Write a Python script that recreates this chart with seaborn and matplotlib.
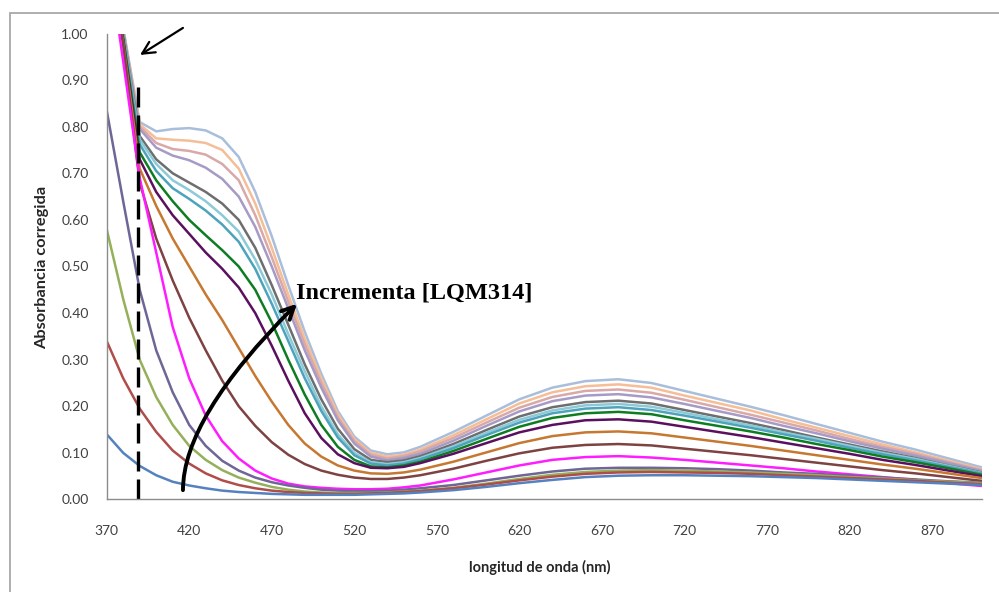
import numpy as np
import pandas as pd
import matplotlib
matplotlib.use("Agg")
import matplotlib.pyplot as plt
import seaborn as sns
from matplotlib.patches import Rectangle
from matplotlib.ticker import MultipleLocator, FormatStrFormatter

# ---------------- data ----------------
wavelength = [370, 380, 390, 400, 410, 420, 430, 440, 450, 460, 470, 480, 490, 500, 510,
              520, 530, 540, 550, 560, 580, 600, 620, 640, 660, 680, 700, 720, 740, 760,
              780, 800, 820, 840, 860, 880, 900]

s_lightblue = [1.21, 1.012, 0.81, 0.79, 0.795, 0.797, 0.792, 0.775, 0.735, 0.66, 0.565, 0.46, 0.36, 0.27, 0.19, 0.135, 0.105, 0.097, 0.101, 0.113, 0.145, 0.18, 0.215, 0.24, 0.254, 0.258, 0.250, 0.233, 0.216, 0.199, 0.181, 0.162, 0.143, 0.124, 0.107, 0.088, 0.069]
s_peach = [1.21, 1.01, 0.805, 0.775, 0.772, 0.77, 0.765, 0.75, 0.71, 0.635, 0.54, 0.44, 0.345, 0.26, 0.183, 0.13, 0.1, 0.092, 0.096, 0.107, 0.138, 0.172, 0.206, 0.230, 0.243, 0.247, 0.240, 0.223, 0.207, 0.191, 0.172, 0.154, 0.136, 0.118, 0.101, 0.083, 0.065]
s_mauve = [1.21, 1.008, 0.80, 0.765, 0.752, 0.748, 0.74, 0.72, 0.685, 0.61, 0.52, 0.425, 0.333, 0.25, 0.176, 0.125, 0.096, 0.088, 0.093, 0.103, 0.132, 0.165, 0.197, 0.220, 0.233, 0.236, 0.229, 0.214, 0.198, 0.182, 0.165, 0.148, 0.130, 0.113, 0.098, 0.080, 0.063]
s_lavender = [1.21, 1.005, 0.795, 0.755, 0.738, 0.728, 0.712, 0.688, 0.65, 0.585, 0.50, 0.41, 0.32, 0.24, 0.17, 0.12, 0.092, 0.084, 0.089, 0.098, 0.126, 0.158, 0.189, 0.211, 0.223, 0.226, 0.219, 0.205, 0.190, 0.175, 0.158, 0.142, 0.125, 0.109, 0.094, 0.078, 0.061]
s_darkgray = [1.21, 1.0, 0.78, 0.73, 0.70, 0.68, 0.66, 0.635, 0.60, 0.54, 0.46, 0.375, 0.29, 0.215, 0.152, 0.108, 0.085, 0.08, 0.084, 0.093, 0.119, 0.149, 0.178, 0.198, 0.209, 0.212, 0.206, 0.192, 0.178, 0.164, 0.149, 0.133, 0.118, 0.103, 0.089, 0.073, 0.058]
s_aqua = [1.2, 0.998, 0.772, 0.72, 0.685, 0.664, 0.64, 0.61, 0.575, 0.515, 0.44, 0.355, 0.275, 0.20, 0.14, 0.10, 0.08, 0.076, 0.080, 0.089, 0.114, 0.143, 0.171, 0.191, 0.202, 0.205, 0.199, 0.186, 0.172, 0.159, 0.144, 0.130, 0.115, 0.100, 0.087, 0.072, 0.057]
s_teal = [1.2, 0.995, 0.762, 0.705, 0.668, 0.645, 0.62, 0.59, 0.553, 0.495, 0.42, 0.34, 0.26, 0.19, 0.133, 0.095, 0.077, 0.073, 0.077, 0.086, 0.110, 0.138, 0.165, 0.185, 0.195, 0.198, 0.192, 0.180, 0.167, 0.154, 0.140, 0.126, 0.111, 0.097, 0.084, 0.070, 0.056]
s_green = [1.2, 0.99, 0.745, 0.685, 0.64, 0.60, 0.567, 0.535, 0.50, 0.45, 0.38, 0.30, 0.225, 0.16, 0.113, 0.085, 0.071, 0.069, 0.073, 0.081, 0.104, 0.130, 0.156, 0.175, 0.185, 0.188, 0.183, 0.170, 0.158, 0.146, 0.133, 0.119, 0.106, 0.092, 0.080, 0.067, 0.053]
s_darkpurple = [1.2, 0.985, 0.73, 0.66, 0.61, 0.57, 0.53, 0.495, 0.455, 0.40, 0.33, 0.255, 0.185, 0.132, 0.097, 0.078, 0.068, 0.067, 0.070, 0.078, 0.098, 0.121, 0.144, 0.160, 0.170, 0.172, 0.167, 0.156, 0.145, 0.134, 0.122, 0.110, 0.098, 0.085, 0.074, 0.062, 0.050]
s_orange = [1.2, 0.98, 0.71, 0.63, 0.56, 0.50, 0.44, 0.385, 0.325, 0.265, 0.21, 0.16, 0.12, 0.092, 0.073, 0.062, 0.056, 0.055, 0.058, 0.064, 0.081, 0.101, 0.121, 0.136, 0.144, 0.146, 0.142, 0.133, 0.124, 0.115, 0.105, 0.095, 0.085, 0.075, 0.066, 0.056, 0.046]
s_brown = [1.2, 0.975, 0.68, 0.56, 0.47, 0.39, 0.32, 0.255, 0.20, 0.158, 0.123, 0.096, 0.076, 0.062, 0.053, 0.047, 0.044, 0.044, 0.047, 0.052, 0.066, 0.083, 0.099, 0.111, 0.117, 0.119, 0.116, 0.109, 0.102, 0.095, 0.087, 0.079, 0.071, 0.063, 0.056, 0.048, 0.040]
s_magenta = [1.19, 0.94, 0.69, 0.53, 0.37, 0.26, 0.18, 0.125, 0.088, 0.062, 0.045, 0.034, 0.028, 0.025, 0.023, 0.022, 0.022, 0.023, 0.026, 0.030, 0.043, 0.058, 0.073, 0.085, 0.091, 0.093, 0.090, 0.085, 0.079, 0.073, 0.067, 0.060, 0.054, 0.048, 0.042, 0.035, 0.029]
s_purple = [0.835, 0.64, 0.45, 0.32, 0.23, 0.16, 0.115, 0.083, 0.062, 0.047, 0.037, 0.03, 0.025, 0.021, 0.019, 0.018, 0.018, 0.019, 0.021, 0.024, 0.031, 0.041, 0.051, 0.060, 0.066, 0.068, 0.068, 0.067, 0.065, 0.062, 0.058, 0.055, 0.051, 0.047, 0.043, 0.039, 0.036]
s_olive = [0.58, 0.43, 0.30, 0.22, 0.16, 0.115, 0.085, 0.063, 0.047, 0.036, 0.027, 0.021, 0.017, 0.015, 0.014, 0.014, 0.014, 0.015, 0.017, 0.019, 0.025, 0.034, 0.044, 0.053, 0.059, 0.062, 0.063, 0.062, 0.060, 0.058, 0.055, 0.052, 0.048, 0.045, 0.041, 0.038, 0.035]
s_red = [0.34, 0.26, 0.195, 0.145, 0.105, 0.077, 0.056, 0.041, 0.031, 0.024, 0.019, 0.016, 0.014, 0.013, 0.012, 0.012, 0.013, 0.014, 0.016, 0.018, 0.024, 0.032, 0.041, 0.049, 0.055, 0.058, 0.059, 0.058, 0.057, 0.055, 0.052, 0.049, 0.046, 0.043, 0.040, 0.036, 0.033]
s_blue = [0.14, 0.10, 0.072, 0.052, 0.038, 0.03, 0.024, 0.019, 0.016, 0.014, 0.012, 0.011, 0.010, 0.010, 0.010, 0.010, 0.011, 0.012, 0.013, 0.015, 0.020, 0.027, 0.035, 0.042, 0.048, 0.051, 0.052, 0.052, 0.051, 0.050, 0.048, 0.046, 0.043, 0.040, 0.037, 0.034, 0.031]

x_ticks = [370, 420, 470, 520, 570, 620, 670, 720, 770, 820, 870]
y_ticks = [0.0, 0.1, 0.2, 0.3, 0.4, 0.5, 0.6, 0.7, 0.8, 0.9, 1.0]
dashed_x = 389
dashed_top = 0.885

series = {
    "lightblue": s_lightblue, "peach": s_peach, "mauve": s_mauve, "lavender": s_lavender,
    "darkgray": s_darkgray, "aqua": s_aqua, "teal": s_teal, "green": s_green,
    "darkpurple": s_darkpurple, "orange": s_orange, "brown": s_brown, "magenta": s_magenta,
    "purple": s_purple, "olive": s_olive, "red": s_red, "blue": s_blue,
}
palette = {
    "lightblue": "#A9BEDB", "peach": "#F5BE97", "mauve": "#D9A8A8", "lavender": "#A59BC6",
    "darkgray": "#6E6E6E", "aqua": "#8CCAD8", "teal": "#4EA3BC", "green": "#0E7D22",
    "darkpurple": "#5B105F", "orange": "#C77830", "brown": "#7E4242", "magenta": "#FF1CFF",
    "purple": "#6F6596", "olive": "#95B05A", "red": "#B04C4A", "blue": "#5582BE",
}
order = list(series.keys())

df = pd.DataFrame({"wavelength": wavelength, **series})
long = df.melt(id_vars="wavelength", var_name="serie", value_name="absorbancia")

# ---------------- figure ----------------
sns.set_style("white")
plt.rcParams["font.family"] = ["Lato", "DejaVu Sans"]

fig = plt.figure(figsize=(9.99, 5.92), dpi=100)
ax = fig.add_axes([0.1068, 0.1563, 0.9825 - 0.1068, 0.9434 - 0.1563])

sns.lineplot(data=long, x="wavelength", y="absorbancia", hue="serie", hue_order=order,
             palette=palette, linewidth=1.8, legend=False, estimator=None, sort=False, ax=ax)

ax.plot([dashed_x, dashed_x], [0, dashed_top], color="black", lw=2.4, dashes=(6, 2.4))

ax.set_xlim(370, 900)
ax.set_ylim(0, 1.0)
ax.set_xticks(x_ticks)
ax.xaxis.set_minor_locator(MultipleLocator(10))
ax.set_yticks(y_ticks)
ax.yaxis.set_major_formatter(FormatStrFormatter("%.2f"))
ax.set_xlabel("")
ax.set_ylabel("")

for side in ["top", "right"]:
    ax.spines[side].set_visible(False)
for side in ["left", "bottom"]:
    ax.spines[side].set_color("#8C8C8C")
    ax.spines[side].set_linewidth(1.0)

ax.tick_params(axis="x", which="major", direction="inout", length=9, width=1,
               color="#8C8C8C", pad=14, labelsize=10, labelcolor="#404040")
ax.tick_params(axis="x", which="minor", direction="inout", length=5, width=0.8,
               color="#8C8C8C")
ax.tick_params(axis="y", which="major", direction="out", length=4, width=1,
               color="#8C8C8C", pad=9, labelsize=10, labelcolor="#404040")

# arrows & annotation
ax.annotate("", xy=(390.2, 0.954), xytext=(416.2, 1.012), annotation_clip=False,
            arrowprops=dict(arrowstyle="->", lw=1.6, color="black", mutation_scale=22,
                            shrinkA=0, shrinkB=0))
ax.annotate("", xy=(485.3, 0.42), xytext=(416.2, 0.02), annotation_clip=False,
            arrowprops=dict(arrowstyle="->", lw=2.8, color="black", mutation_scale=22,
                            shrinkA=0, shrinkB=0,
                            connectionstyle="angle3,angleA=90,angleB=45"))
ax.text(484.7, 0.432, "Incrementa [LQM314]", family=["Liberation Serif", "DejaVu Serif"],
        fontweight="bold", fontsize=17.5, va="baseline", ha="left", color="black")

fig.text(0.5405, 0.0422, "longitud de onda (nm)", ha="center", va="center",
         fontsize=10.5, fontweight="bold", color="#262626")
fig.text(0.042, 0.549, "Absorbancia corregida", ha="center", va="center", rotation=90,
         fontsize=11.8, fontweight="bold", color="#262626")

fig.patches.append(Rectangle((10 / 999, -0.05), 1.2, (592 - 12.7) / 592 + 0.05,
                             transform=fig.transFigure, fill=False,
                             edgecolor="#A8A8A8", lw=1.3))

fig.savefig("out.png", dpi=100)
